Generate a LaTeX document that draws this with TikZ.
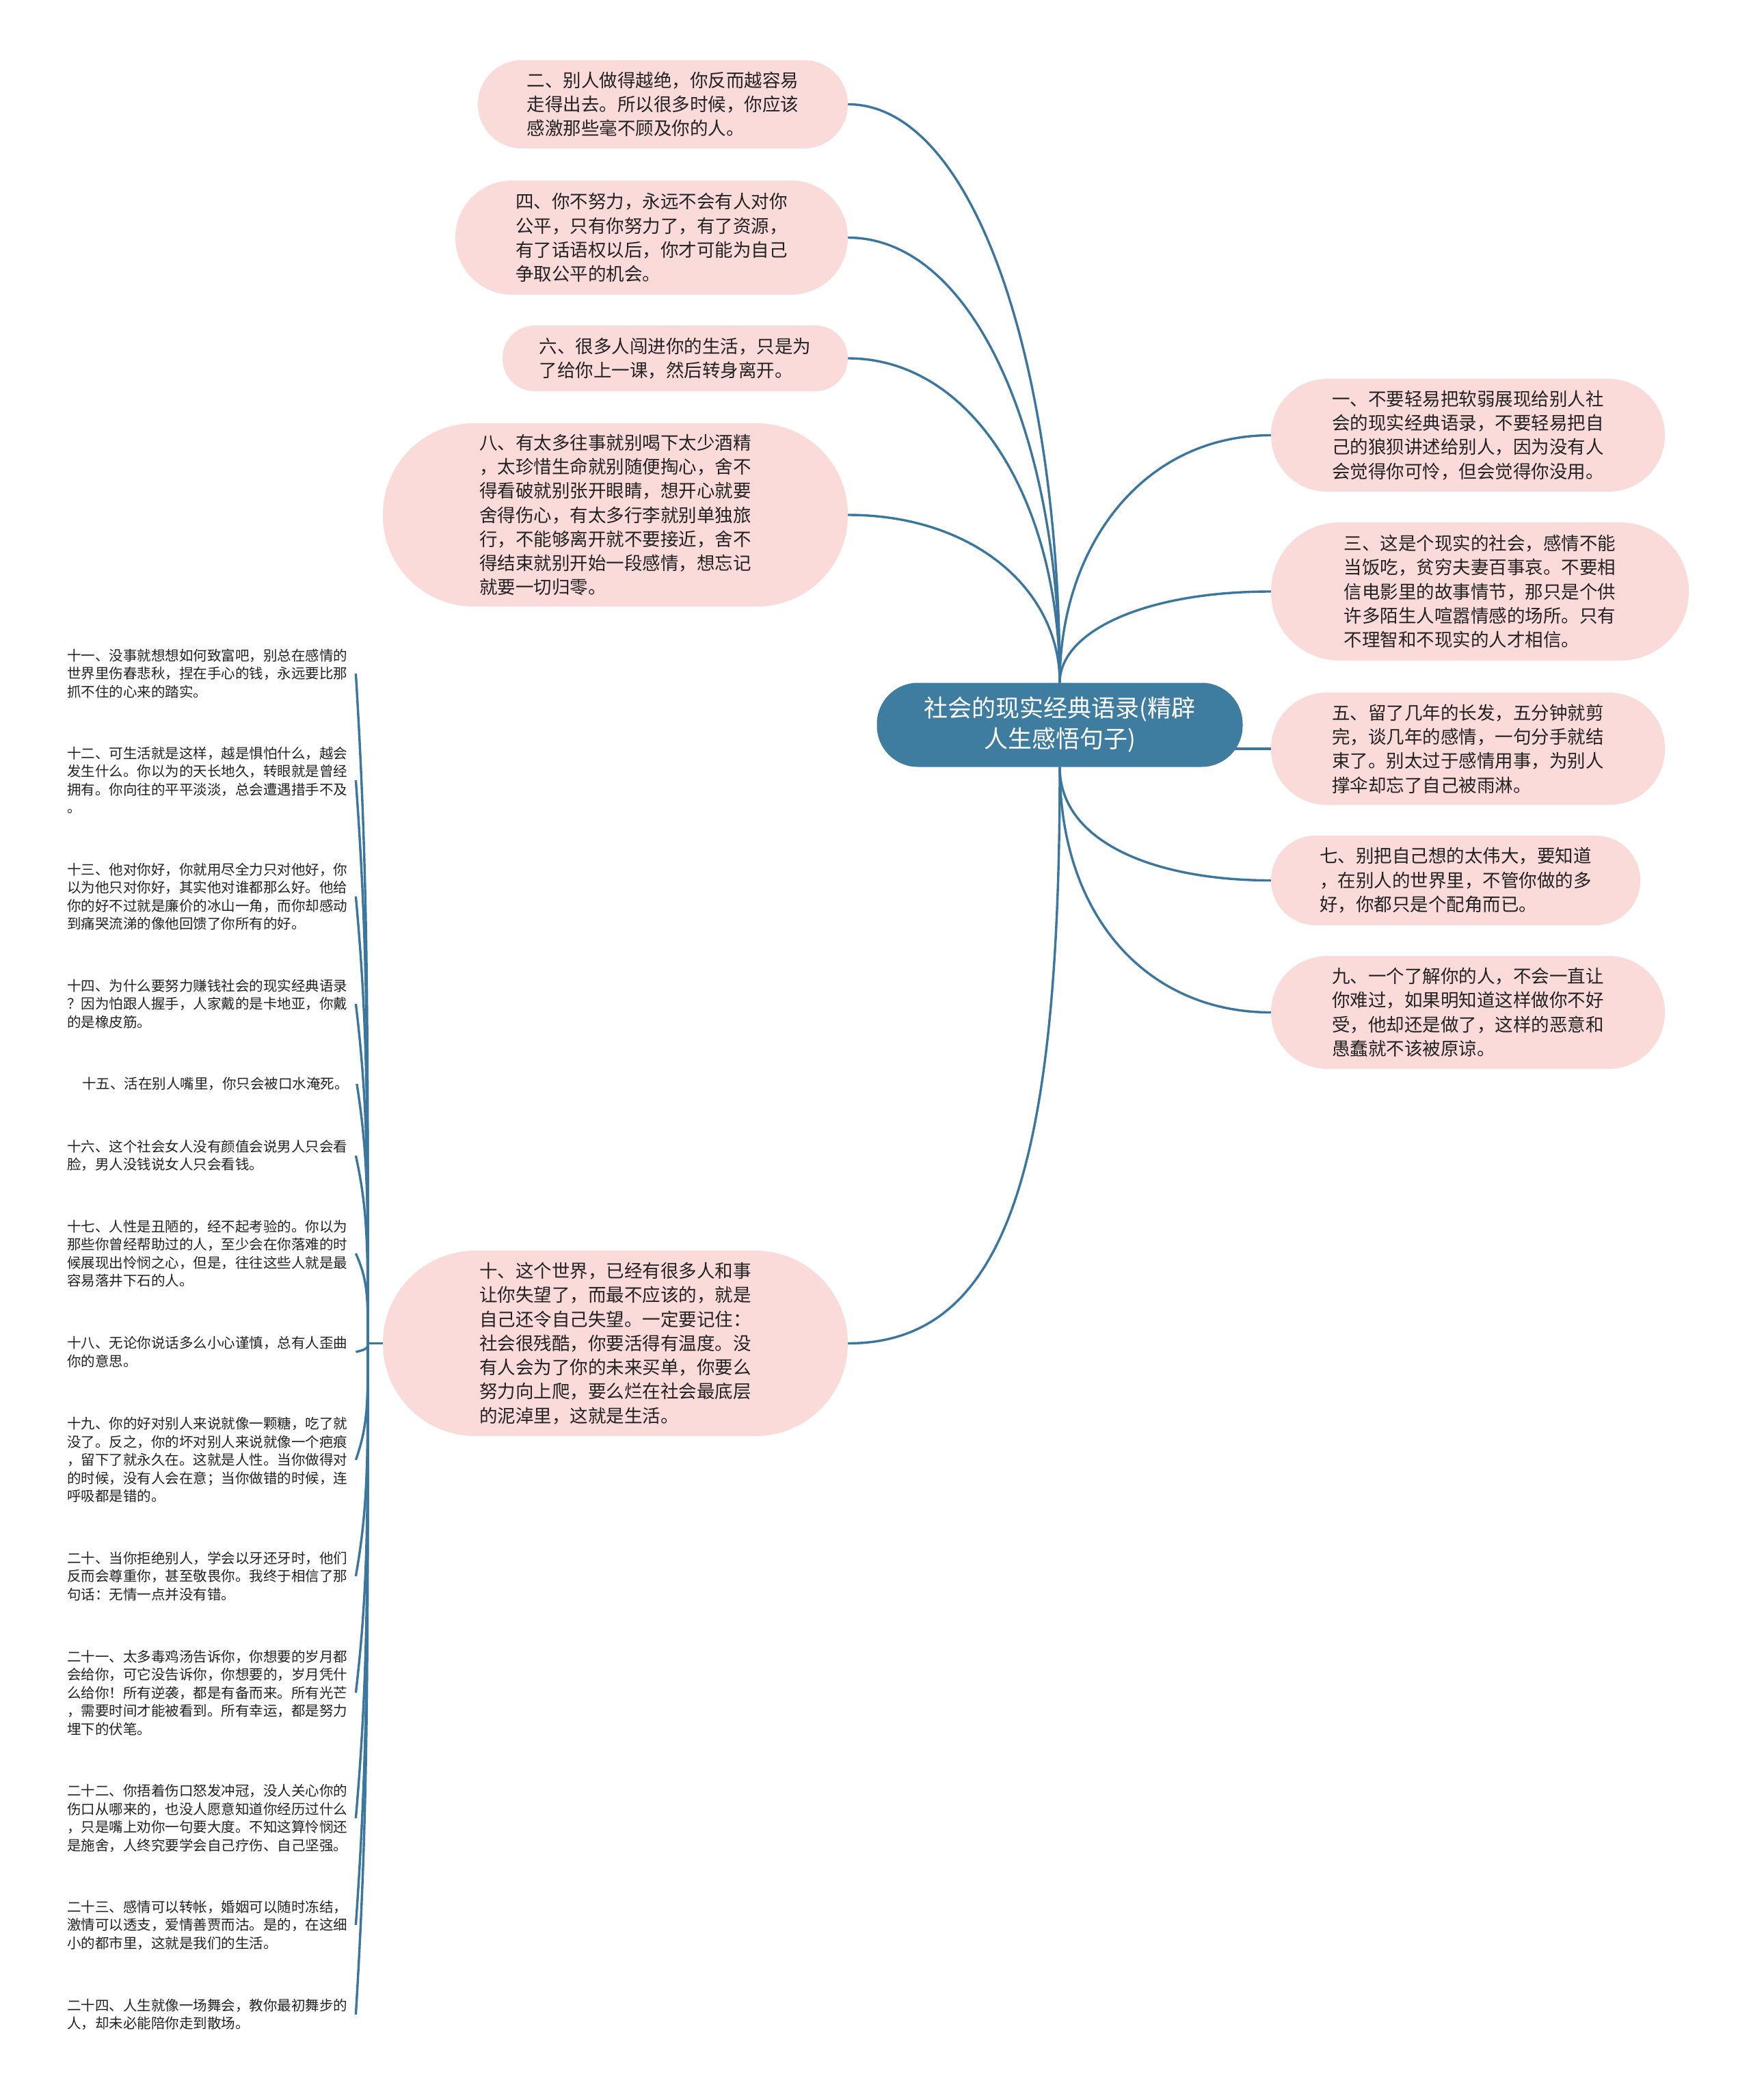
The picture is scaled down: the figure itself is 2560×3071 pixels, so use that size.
\documentclass[tikz,border=0pt]{standalone}
\usepackage{fontspec}
\setmainfont{Noto Sans CJK SC}
\definecolor{rootblue}{RGB}{62,124,160}
\definecolor{linkblue}{RGB}{58,118,158}
\definecolor{pinkfill}{RGB}{250,219,217}
\definecolor{inktext}{RGB}{34,34,34}
\pgfdeclarelayer{bg}
\pgfsetlayers{bg,main}
\tikzset{
  link/.style={draw=linkblue, line width=3.4pt},
  root/.style={fill=rootblue, text=white, rounded corners=60pt, minimum width=535pt, minimum height=123pt, align=center, inner sep=0pt, font=\fontsize{35pt}{45pt}\selectfont},
  pill/.style={fill=pinkfill, text=inktext, align=left, inner sep=0pt, font=\fontsize{26.5pt}{35.3pt}\selectfont},
  leaf/.style={text=inktext, align=left, anchor=west, inner xsep=12pt, inner ysep=0pt, font=\fontsize{20.5pt}{26.5pt}\selectfont}
}
\begin{document}
\begin{tikzpicture}[x=1pt, y=-1pt]
  \useasboundingbox (0,0) rectangle (2560,3071);
  \begin{pgfonlayer}{bg}
    \fill[white] (0,0) rectangle (2560,3071);
  \end{pgfonlayer}
  % centre
  \node[root] (root) at (1550,1060) {社会的现实经典语录(精辟\\人生感悟句子)};
  % left branches
  \node[pill, minimum width=541pt, minimum height=129pt, rounded corners=64pt] (n2) at (969.5,152.5) {二、别人做得越绝，你反而越容易\\走得出去。所以很多时候，你应该\\感激那些毫不顾及你的人。};
  \node[pill, minimum width=574pt, minimum height=167pt, rounded corners=83pt] (n4) at (953,347.5) {四、你不努力，永远不会有人对你\\公平，只有你努力了，有了资源，\\有了话语权以后，你才可能为自己\\争取公平的机会。};
  \node[pill, minimum width=505pt, minimum height=96pt, rounded corners=47pt] (n6) at (987.5,524) {六、很多人闯进你的生活，只是为\\了给你上一课，然后转身离开。};
  \node[pill, minimum width=680pt, minimum height=268pt, rounded corners=133pt] (n8) at (900,753) {八、有太多往事就别喝下太少酒精\\，太珍惜生命就别随便掏心，舍不\\得看破就别张开眼睛，想开心就要\\舍得伤心，有太多行李就别单独旅\\行，不能够离开就不要接近，舍不\\得结束就别开始一段感情，想忘记\\就要一切归零。};
  \node[pill, minimum width=680pt, minimum height=271pt, rounded corners=135pt] (n10) at (900,1964.5) {十、这个世界，已经有很多人和事\\让你失望了，而最不应该的，就是\\自己还令自己失望。一定要记住：\\社会很残酷，你要活得有温度。没\\有人会为了你的未来买单，你要么\\努力向上爬，要么烂在社会最底层\\的泥淖里，这就是生活。};
  % right branches
  \node[pill, minimum width=576pt, minimum height=165pt, rounded corners=82pt] (n1) at (2147,636.5) {一、不要轻易把软弱展现给别人社\\会的现实经典语录，不要轻易把自\\己的狼狈讲述给别人，因为没有人\\会觉得你可怜，但会觉得你没用。};
  \node[pill, minimum width=611pt, minimum height=202pt, rounded corners=100pt] (n3) at (2164.5,865) {三、这是个现实的社会，感情不能\\当饭吃，贫穷夫妻百事哀。不要相\\信电影里的故事情节，那只是个供\\许多陌生人喧嚣情感的场所。只有\\不理智和不现实的人才相信。};
  \node[pill, minimum width=576pt, minimum height=164pt, rounded corners=81pt] (n5) at (2147,1095) {五、留了几年的长发，五分钟就剪\\完，谈几年的感情，一句分手就结\\束了。别太过于感情用事，为别人\\撑伞却忘了自己被雨淋。};
  \node[pill, minimum width=540pt, minimum height=131pt, rounded corners=65pt] (n7) at (2129,1287.5) {七、别把自己想的太伟大，要知道\\，在别人的世界里，不管你做的多\\好，你都只是个配角而已。};
  \node[pill, minimum width=576pt, minimum height=165pt, rounded corners=82pt] (n9) at (2147,1480.5) {九、一个了解你的人，不会一直让\\你难过，如果明知道这样做你不好\\受，他却还是做了，这样的恶意和\\愚蠢就不该被原谅。};
  % leaves of ten
  \coordinate (jl) at (538,1964.5);
  \node[leaf] (l11) at (86,985) {十一、没事就想想如何致富吧，别总在感情的\\世界里伤春悲秋，捏在手心的钱，永远要比那\\抓不住的心来的踏实。};
  \node[leaf] (l12) at (86,1141) {十二、可生活就是这样，越是惧怕什么，越会\\发生什么。你以为的天长地久，转眼就是曾经\\拥有。你向往的平平淡淡，总会遭遇措手不及\\。};
  \node[leaf] (l13) at (86,1311) {十三、他对你好，你就用尽全力只对他好，你\\以为他只对你好，其实他对谁都那么好。他给\\你的好不过就是廉价的冰山一角，而你却感动\\到痛哭流涕的像他回馈了你所有的好。};
  \node[leaf] (l14) at (86,1468) {十四、为什么要努力赚钱社会的现实经典语录\\？因为怕跟人握手，人家戴的是卡地亚，你戴\\的是橡皮筋。};
  \node[leaf] (l15) at (108,1585) {十五、活在别人嘴里，你只会被口水淹死。};
  \node[leaf] (l16) at (86,1690) {十六、这个社会女人没有颜值会说男人只会看\\脸，男人没钱说女人只会看钱。};
  \node[leaf] (l17) at (86,1833) {十七、人性是丑陋的，经不起考验的。你以为\\那些你曾经帮助过的人，至少会在你落难的时\\候展现出怜悯之心，但是，往往这些人就是最\\容易落井下石的人。};
  \node[leaf] (l18) at (86,1977) {十八、无论你说话多么小心谨慎，总有人歪曲\\你的意思。};
  \node[leaf] (l19) at (86,2135) {十九、你的好对别人来说就像一颗糖，吃了就\\没了。反之，你的坏对别人来说就像一个疤痕\\，留下了就永久在。这就是人性。当你做得对\\的时候，没有人会在意；当你做错的时候，连\\呼吸都是错的。};
  \node[leaf] (l20) at (86,2305) {二十、当你拒绝别人，学会以牙还牙时，他们\\反而会尊重你，甚至敬畏你。我终于相信了那\\句话：无情一点并没有错。};
  \node[leaf] (l21) at (86,2475.5) {二十一、太多毒鸡汤告诉你，你想要的岁月都\\会给你，可它没告诉你，你想要的，岁月凭什\\么给你！所有逆袭，都是有备而来。所有光芒\\，需要时间才能被看到。所有幸运，都是努力\\埋下的伏笔。};
  \node[leaf] (l22) at (86,2659) {二十二、你捂着伤口怒发冲冠，没人关心你的\\伤口从哪来的，也没人愿意知道你经历过什么\\，只是嘴上劝你一句要大度。不知这算怜悯还\\是施舍，人终究要学会自己疗伤、自己坚强。};
  \node[leaf] (l23) at (86,2815) {二十三、感情可以转帐，婚姻可以随时冻结，\\激情可以透支，爱情善贾而沽。是的，在这细\\小的都市里，这就是我们的生活。};
  \node[leaf] (l24) at (86,2946) {二十四、人生就像一场舞会，教你最初舞步的\\人，却未必能陪你走到散场。};
  % connectors
  \begin{pgfonlayer}{bg}
    \draw[link] (root.north) .. controls +(0,-466) and +(184,0) .. (n2.east);
    \draw[link] (root.north) .. controls +(0,-359) and +(184,0) .. (n4.east);
    \draw[link] (root.north) .. controls +(0,-262) and +(184,0) .. (n6.east);
    \draw[link] (root.north) .. controls +(0,-136) and +(184,0) .. (n8.east);
    \draw[link] (root.north) .. controls +(0,-200) and +(-187,0) .. (n1.west);
    \draw[link] (root.north) .. controls +(0,-74) and +(-187,0) .. (n3.west);
    \draw[link] (root.center |- n5.west) -- (n5.west);
    \draw[link] (root.south) .. controls +(0,110) and +(-170,0) .. (n7.west);
    \draw[link] (root.south) .. controls +(0,220) and +(-180,0) .. (n9.west);
    \draw[link] (root.south) .. controls +(0,590) and +(230,0) .. (n10.east);
  \end{pgfonlayer}
  \draw[link] (n10.west) -- (jl);
  \draw[link] (jl) .. controls +(0,-490) and +(18,294) .. (l11.east);
  \draw[link] (jl) .. controls +(0,-412) and +(18,247) .. (l12.east);
  \draw[link] (jl) .. controls +(0,-327) and +(18,196) .. (l13.east);
  \draw[link] (jl) .. controls +(0,-248) and +(18,149) .. (l14.east);
  \draw[link] (jl) .. controls +(0,-190) and +(18,114) .. (l15.east);
  \draw[link] (jl) .. controls +(0,-137) and +(18,82) .. (l16.east);
  \draw[link] (jl) .. controls +(0,-66) and +(18,40) .. (l17.east);
  \draw[link] (jl) .. controls +(0,6) and +(18,-4) .. (l18.east);
  \draw[link] (jl) .. controls +(0,85) and +(18,-51) .. (l19.east);
  \draw[link] (jl) .. controls +(0,170) and +(18,-102) .. (l20.east);
  \draw[link] (jl) .. controls +(0,256) and +(18,-153) .. (l21.east);
  \draw[link] (jl) .. controls +(0,347) and +(18,-208) .. (l22.east);
  \draw[link] (jl) .. controls +(0,425) and +(18,-255) .. (l23.east);
  \draw[link] (jl) .. controls +(0,491) and +(18,-295) .. (l24.east);
\end{tikzpicture}
\end{document}
